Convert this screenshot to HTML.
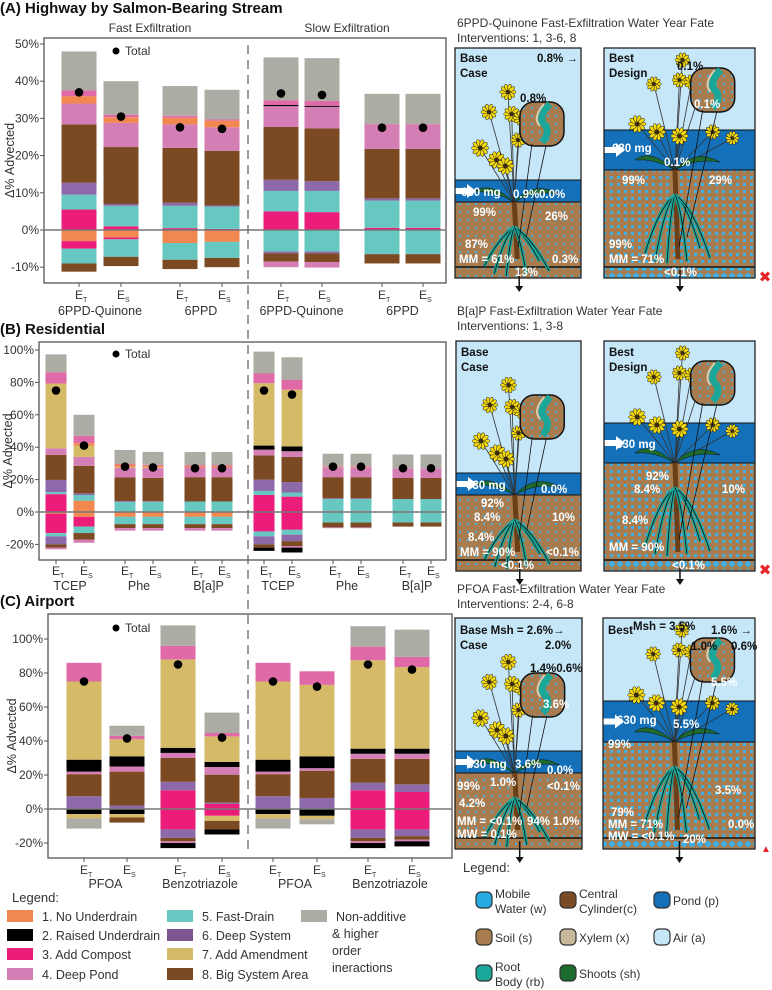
<!DOCTYPE html>
<html><head><meta charset="utf-8"><style>
html,body{margin:0;padding:0;background:#fff;}
svg{display:block;font-family:"Liberation Sans",sans-serif;}
</style></head><body>
<svg id="fig" width="772" height="990" viewBox="0 0 772 990" xmlns="http://www.w3.org/2000/svg">
<defs>
<pattern id="soilDots" width="8" height="8" patternUnits="userSpaceOnUse"><rect width="8" height="8" fill="#A97C50"/><rect x="3" y="3" width="2" height="2" fill="#3FB0E6"/></pattern>
<pattern id="soilDots2" width="7" height="7" patternUnits="userSpaceOnUse"><rect width="7" height="7" fill="#A97C50"/><rect x="1" y="1" width="3" height="3" fill="#3FB0E6"/></pattern>
<pattern id="waterDots" width="8" height="8" patternUnits="userSpaceOnUse"><rect width="8" height="8" fill="#A97C50"/><circle cx="4" cy="4" r="3" fill="#3FB0E6"/></pattern>
</defs>
<g id="charts"></g>
<g id="diagrams"></g>
<g id="legends"></g>
</svg>
<script>
// ---------- DATA ----------
const seriesNames = ["noUnderLow","compost","fast","deep","big","pond","raised","amend","noUnder","mix","nonadd"];
const seriesColors = {noUnderLow:"#F08850",compost:"#EC1C7A",fast:"#66C8C1",deep:"#8E69AA",big:"#7B4A22",pond:"#D57DB5",raised:"#000000",amend:"#D5BA68",noUnder:"#F08850",mix:"#E06AA8",nonadd:"#ADACA4"};
const negOrder = ["noUnder","compost","raised","amend","fast","deep","big","pond","nonadd"];

// Panel A
const catsA = ["6PPD-Quinone","6PPD","6PPD-Quinone","6PPD"];
const barLabelsA = ["T","S","T","S","T","S","T","S"];
const A_pos = {
  noUnderLow:[0,0,0,0,0,0,0,0],
  compost:[5.5,1,0.5,0.3,5,4.8,0.6,0.6],
  fast:[4,5.5,6,6,5.5,5.7,7.3,7.3],
  deep:[3.2,0.5,0.8,0.3,3,2.6,0.6,0.6],
  big:[15.7,15.3,14.8,14.7,14.2,14.2,13.3,13.3],
  pond:[5.6,6.5,6.3,6.3,5.6,5.8,6.3,6.3],
  raised:[0,0,0,0,0.3,0.3,0,0],
  amend:[0,0,0,0,0,0,0,0],
  noUnder:[2,1.5,1.8,1.8,0,0,0,0],
  mix:[1.5,0.7,0.5,0.3,1.3,1.3,0.3,0.3],
  nonadd:[10.5,9,8,8,11.5,11.5,8.2,8.2]};
const A_neg = {
  noUnder:[3,2,3.5,3.2,0,0,0,0], compost:[2,0.5,0,0,0,0,0,0], raised:[0,0,0,0,0,0,0,0], amend:[0,0,0,0,0,0,0,0],
  fast:[4,4.7,4.5,4.3,5.8,5.8,6.5,6.5], deep:[0,0,0,0,0.5,0.5,0,0], big:[2.2,2.5,2.5,2.5,2.2,2.3,2.5,2.5], pond:[0,0,0,0,1.5,1.5,0,0], nonadd:[0,0,0,0,0,0,0,0]};
const totalsA = [37,30.5,27.6,27.2,36.7,36.3,27.5,27.5];
const ticksA = [50,40,30,20,10,0,-10];

// Panel B
const catsB = ["TCEP","Phe","B[a]P","TCEP","Phe","B[a]P"];
const barLabelsB = ["T","S","T","S","T","S","T","S","T","S","T","S"];
const B_pos = {
  noUnderLow:[0,7,0,0,0,0,0,0,0,0,0,0],
  compost:[11,0,0.3,0.3,0,0,10.5,9.5,0.5,0.5,0,0],
  fast:[1.3,3.5,6,6,6.5,6.5,2.5,2.5,7.5,7.5,8,8],
  deep:[7.5,1,0.5,0.3,0,0,7,6.5,0.5,0.5,0,0],
  big:[15.5,17,14.5,14.5,15,15,15,15.5,13,13,13,13],
  pond:[4,5.5,6,6,6,6,3.5,3.5,6,6,6,6],
  raised:[0,0,0,0,0,0,2.5,3,0,0,0,0],
  amend:[40,7,0.5,0.5,0,0,38.5,35,0.5,0.5,0,0],
  noUnder:[0,1.5,1.5,1,1,1,0,0,0,0,0,0],
  mix:[7,4.5,0.5,0.5,0.5,0.5,6,6,0.5,0.5,0,0],
  nonadd:[11,13,8.5,8,8,8,13.5,14,7.5,7.5,8.5,8.5]};
const B_neg = {
  noUnder:[1,3,3,3,3,3,0,0,0,0,0,0], compost:[12,6,0,0,0,0,12,11,0,0,0,0], raised:[0,0,0,0,0,0,0,0,0,0,0,0],
  amend:[0,0,0,0,0,0,0,0,0,0,0,0], fast:[2,4,4.5,4.5,4.5,4.5,3,3,6.5,6.5,6.5,6.5], deep:[5,0,0,0,0,0,5,4,0,0,0,0],
  big:[2,4,2.5,2.5,2.5,2.5,2,3,3,3,2.5,2.5], pond:[1,2,1.5,1.5,1.5,1.5,0,1,0.5,0.5,0,0], nonadd:[0,0,0,0,0,0,0,0,0,0,0,0]};
const B_negTail = [0,0,0,0,0,0,2,3,0,0,0,0];
const totalsB = [75,41,28,27.5,27,27,75,72.5,28,28,27,27];
const ticksB = [100,80,60,40,20,0,-20];

// Panel C
const catsC = ["PFOA","Benzotriazole","PFOA","Benzotriazole"];
const barLabelsC = ["T","S","T","S","T","S","T","S"];
const C_pos = {
  noUnderLow:[0,0,0,0,0,0,0,0],
  compost:[0,0,11,3,0,0,11,10],
  fast:[0,0,0,0,0,0,0,0],
  deep:[7.5,2,5,0.7,7.5,6.5,4.5,4.5],
  big:[13,20,14,16.5,13,16,14,15],
  pond:[1.5,3,3,4.5,1.5,1.5,3,3],
  raised:[7,6,3,3,7,7,3,3],
  amend:[46,10,52,15,46,42,52,48],
  noUnder:[0,0,0,0,0,0,0,0],
  mix:[11,2,8,2,11,8,8,6],
  nonadd:[0,6,12,12,0,0,12,16]};
const C_neg = {
  noUnder:[0,0,0,0,0,0,0,0], compost:[0,0,12,4,0,0,12,12], raised:[3,3,0,0,3,4,0,0], amend:[2.5,2,0,3,2.5,2,0,0],
  fast:[0,0,0,0,0,0,0,0], deep:[0,0,5,0,0,0,5,4], big:[0,3,2,5,0,0,2,2], pond:[0,0,1,0,0,0,1,1], nonadd:[6,0,0,0,6,3,0,0]};
const C_negTail = [0,0,3,3,0,0,3,3];
const totalsC = [75,41.5,85,42,75,72,85,82];
const ticksC = [100,80,60,40,20,0,-20];

// ---------- HELPERS ----------
const NS="http://www.w3.org/2000/svg";
function mk(tag, attrs, parent){const e=document.createElementNS(NS,tag);for(const k in attrs)e.setAttribute(k,attrs[k]);(parent||document.getElementById('charts')).appendChild(e);return e;}
function txt(x,y,s,attrs,parent){const t=mk('text',Object.assign({x:x,y:y},attrs||{}),parent);t.textContent=s;return t;}

function drawPanel(p){
  const g=mk('g',{});
  
  
  const yv=v=>p.zero - v*p.scale;
  const frame=mk('rect',{x:p.x0,y:p.top,width:p.x1-p.x0,height:p.bot-p.top,fill:'none',stroke:'#555','stroke-width':1.3},g);
  
  
  p.ticks.forEach(t=>{
    const y=yv(t);
    mk('line',{x1:p.x0-4,x2:p.x0,y1:y,y2:y,stroke:'#555'},g);
    const l=txt(p.x0-5,y+4,t+'%',{'font-size':12,'text-anchor':'end',fill:'#333'},g);
    
    
  });
  const yl=txt(0,0,'Δ% Advected',{'font-size':12.5,'text-anchor':'middle',fill:'#333',transform:`translate(${p.ylabX},${(p.top+p.bot)/2}) rotate(-90)`},g);
  
  
  const n=p.centers.length;
  for(let i=0;i<n;i++){
    const cx=p.centers[i], bw=p.bw;
    const bg=mk('g',{},g);
    
    
    let acc=0;
    seriesNames.forEach(s=>{
      const v=p.pos[s][i]; if(!v) return;
      const r=mk('rect',{x:cx-bw/2,y:yv(acc+v),width:bw,height:v*p.scale,fill:seriesColors[s]},bg);
      
      
      acc+=v;
    });
    let nacc=0;
    negOrder.forEach(s=>{
      const v=p.neg[s][i]; if(!v) return;
      const r=mk('rect',{x:cx-bw/2,y:yv(-nacc),width:bw,height:v*p.scale,fill:seriesColors[s]},bg);
      
      
      nacc+=v;
    });
    if(p.tail && p.tail[i]){
      const v=p.tail[i];
      const r=mk('rect',{x:cx-bw/2,y:yv(-nacc),width:bw,height:v*p.scale,fill:'#000'},bg);
      
      
    }
    const d=mk('circle',{cx:cx,cy:yv(p.totals[i]),r:4.3,fill:'#000'},bg);
    
    
    mk('line',{x1:cx,x2:cx,y1:p.bot,y2:p.bot+4,stroke:'#555'},g);
    const lab=mk('text',{x:cx-4,y:p.bot+p.eOff,'font-size':12,fill:'#333'},g);
    
    
    lab.textContent='E';
    const sub=mk('tspan',{'font-size':7,dy:3},lab); sub.textContent=p.bl[i];
  }
  const zl=mk('line',{x1:p.x0,x2:p.x1,y1:p.zero,y2:p.zero,stroke:'#777','stroke-width':1.4},g);
  
  
  p.cats.forEach((c,k)=>{
    const cx=(p.centers[2*k]+p.centers[2*k+1])/2;
    const t=txt(cx,p.bot+p.cOff,c,{'font-size':12.5,'text-anchor':'middle',fill:'#333'},g);
    
    
  });
  mk('circle',{cx:p.legX,cy:p.legY-4,r:3.5,fill:'#000'},g);
  const tl=txt(p.legX+9,p.legY,'Total',{'font-size':12,fill:'#333'},g);
  
  
}

drawPanel({name:'panel-a-chart',x0:44,x1:446,top:38,bot:283,zero:230,scale:3.72,ticks:ticksA,ylabX:14,
  centers:[79,121,180,222,281,322,382,423],bw:35,pos:A_pos,neg:A_neg,totals:totalsA,bl:barLabelsA,cats:catsA,eOff:16,cOff:32,legX:116,legY:55});
drawPanel({name:'panel-b-chart',x0:39,x1:446,top:342,bot:560,zero:512,scale:1.62,ticks:ticksB,ylabX:12,
  centers:[56,84,125,153,195,222,264,292,333,361,403,431],bw:21,pos:B_pos,neg:B_neg,tail:B_negTail,totals:totalsB,bl:barLabelsB,cats:catsB,eOff:15,cOff:30,legX:116,legY:358});
drawPanel({name:'panel-c-chart',x0:48,x1:452,top:614,bot:858,zero:809,scale:1.7,ticks:ticksC,ylabX:16,
  centers:[84,127,178,222,273,317,368,412],bw:35,pos:C_pos,neg:C_neg,tail:C_negTail,totals:totalsC,bl:barLabelsC,cats:catsC,eOff:16,cOff:30,legX:116,legY:632});

const C=document.getElementById('charts');
const dv=mk('line',{x1:248,x2:248,y1:45,y2:855,stroke:'#666','stroke-width':1.3,'stroke-dasharray':'9,6'},C);


[[0,13,'(A)  Highway by Salmon-Bearing Stream','panel-a-title'],[0,334,'(B)    Residential','panel-b-title'],[0,606,'(C)    Airport','panel-c-title']].forEach(a=>{
  const t=txt(a[0],a[1],a[2],{'font-size':15,'font-weight':'bold',fill:'#111'},C);
  
  
});
const f1=txt(150,32,'Fast Exfiltration',{'font-size':12,'text-anchor':'middle',fill:'#333'},C);


const f2=txt(347,32,'Slow Exfiltration',{'font-size':12,'text-anchor':'middle',fill:'#333'},C);



// ---------- DIAGRAMS ----------
const D=document.getElementById('diagrams');
function flower(g,x,y,r){
  for(let k=0;k<10;k++){const a=k*Math.PI/5;mk('ellipse',{cx:x+Math.cos(a)*r*0.7,cy:y+Math.sin(a)*r*0.7,rx:r*0.55,ry:r*0.28,fill:'#F5D90A',stroke:'#222','stroke-width':0.5,transform:`rotate(${k*36} ${x+Math.cos(a)*r*0.7} ${y+Math.sin(a)*r*0.7})`},g);}
  mk('circle',{cx:x,cy:y,r:r*0.35,fill:'#3a2a10'},g);
}
function diagram(name,x,y,w,h,pondTop,pondBot,soilBot,best,labels){
  const g=mk('g',{},D);
  
  
  mk('rect',{x:x,y:y,width:w,height:pondTop-y,fill:'#C5E7F8'},g);
  mk('rect',{x:x,y:pondTop,width:w,height:pondBot-pondTop,fill:'#1470B8'},g);
  mk('rect',{x:x,y:pondBot,width:w,height:soilBot-pondBot,fill:best?'url(#soilDots2)':'url(#soilDots)'},g);
  mk('rect',{x:x,y:soilBot,width:w,height:y+h-soilBot,fill:best?'url(#waterDots)':'url(#soilDots)'},g);
  mk('line',{x1:x,x2:x+w,y1:soilBot,y2:soilBot,stroke:'#111','stroke-width':1.5},g);
  mk('line',{x1:x,x2:x+w,y1:pondTop,y2:pondTop,stroke:'#111','stroke-width':1},g);
  mk('line',{x1:x,x2:x+w,y1:pondBot,y2:pondBot,stroke:'#111','stroke-width':1},g);
  const cx=x+w*0.47;
  const fl=best?[[x+w*0.52,y+12,6],[x+w*0.33,y+36,6],[x+w*0.5,y+32,6],[x+w*0.58,y+34,6],[x+w*0.62,y+52,5.5],[x+w*0.22,pondTop-6,7],[x+w*0.35,pondTop+2,7],[x+w*0.5,pondTop+6,7],[x+w*0.72,pondTop+2,6],[x+w*0.85,pondTop+8,5.5]]
    :[[x+w*0.42,y+44,6.5],[x+w*0.27,y+64,6.5],[x+w*0.45,y+66,6.5],[x+w*0.52,y+70,6],[x+w*0.5,y+92,6],[x+w*0.2,y+100,7],[x+w*0.33,y+112,7],[x+w*0.4,y+118,7]];
  fl.forEach(f=>mk('path',{d:`M${cx},${pondBot} Q${(cx+f[0])/2},${(pondBot+f[1])/2} ${f[0]},${f[1]}`,stroke:'#333','stroke-width':0.8,fill:'none'},g));
  mk('path',{d:`M${cx},${pondBot} q-25,-22 -40,-10 q20,-2 40,10 q20,-22 45,-8 q-25,-4 -45,8`,fill:'#1E6B2E',stroke:'#111','stroke-width':0.5},g);
  fl.forEach(f=>flower(g,f[0],f[1],f[2]));
  mk('path',{d:`M${cx},${pondBot} L${cx+3},${soilBot-8}`,stroke:'#6B3F17','stroke-width':5},g);
  [[-30,0],[-20,8],[25,-5],[35,5],[-8,10],[12,8]].forEach(r=>{
    mk('path',{d:`M${cx},${pondBot+25} q${r[0]/2},10 ${r[0]},${(soilBot-pondBot)*0.6+r[1]}`,stroke:'#1BA69A','stroke-width':3.5,fill:'none'},g);
    mk('path',{d:`M${cx},${pondBot+25} q${r[0]/2},10 ${r[0]},${(soilBot-pondBot)*0.6+r[1]}`,stroke:'#111','stroke-width':0.8,fill:'none'},g);
  });
  const bx=best?x+w*0.72:x+w*0.69, by=best?y+42:(pondTop-56);
  mk('rect',{x:bx-22,y:by-22,width:44,height:44,rx:14,fill:'url(#soilDots)',stroke:'#111','stroke-width':1.5},g);
  mk('path',{d:`M${bx+8},${by-20} q-14,14 -4,22 q4,8 -4,16`,stroke:'#1BA69A','stroke-width':7,fill:'none'},g);
  mk('path',{d:`M${bx+2},${by-20} q-12,14 -4,22`,stroke:'#D9CDB0','stroke-width':2,fill:'none'},g);
  mk('line',{x1:bx-10,y1:by+20,x2:cx+4,y2:soilBot-20,stroke:'#111','stroke-width':0.8},g);
  mk('line',{x1:bx+4,y1:by+22,x2:cx+12,y2:soilBot-30,stroke:'#111','stroke-width':0.8},g);
  mk('path',{d:`M${x},${(pondTop+pondBot)/2-3} h12 v-4 l9,7 l-9,7 v-4 h-12z`,fill:'#fff'},g);
  mk('line',{x1:cx+5,y1:soilBot+3,x2:cx+5,y2:y+h+12,stroke:'#111','stroke-width':1.5},g);
  mk('path',{d:`M${cx+1},${y+h+8} l4,6 l4,-6z`,fill:'#111'},g);
  mk('rect',{x:x,y:y,width:w,height:h,fill:'none',stroke:'#222','stroke-width':1.3},g);
  labels.forEach(l=>{
    const t=txt(x+l[0],y+l[1],l[2],{'font-size':l[4]||11.5,'font-weight':'bold',fill:l[3]||'#fff'},g);
    
    
  });
  return g;
}
function header(x,y,a,b,name){
  const t1=txt(x,y,a,{'font-size':12,fill:'#333'},D);
  
  
  const t2=txt(x,y+15,b,{'font-size':12,fill:'#333'},D);
  
  
}
header(457,27,'6PPD-Quinone Fast-Exfiltration Water Year Fate','Interventions: 1, 3-6, 8','diagram-a');
diagram('diagram-a-base',455,48,126,230,180,202,267,false,[[5,14,'Base','#111'],[5,29,'Case','#111'],[82,14,'0.8% →','#111'],[65,54,'0.8%','#111'],[6,148,'630 mg'],[58,150,'0.9%'],[84,150,'0.0%'],[18,168,'99%'],[90,172,'26%'],[10,200,'87%'],[4,215,'MM = 61%'],[97,215,'0.3%'],[60,228,'13%']]);
diagram('diagram-a-best',604,48,151,230,130,170,267,true,[[5,14,'Best','#111'],[5,29,'Design','#111'],[73,22,'0.1%','#111'],[90,60,'0.1%'],[8,104,'630 mg'],[60,118,'0.1%'],[18,136,'99%'],[105,136,'29%'],[5,200,'99%'],[5,215,'MM = 71%'],[60,228,'<0.1%']]);
header(457,315,'B[a]P Fast-Exfiltration Water Year Fate','Interventions: 1, 3-8','diagram-b');
diagram('diagram-b-base',456,341,125,230,473,495,560,false,[[5,15,'Base','#111'],[5,30,'Case','#111'],[10,148,'630 mg'],[85,152,'0.0%'],[25,166,'92%'],[18,180,'8.4%'],[96,180,'10%'],[12,200,'8.4%'],[4,215,'MM = 90%'],[90,215,'<0.1%'],[45,228,'<0.1%']]);
diagram('diagram-b-best',604,341,151,230,423,463,560,true,[[5,15,'Best','#111'],[5,30,'Design','#111'],[12,107,'630 mg'],[42,139,'92%'],[30,152,'8.4%'],[118,152,'10%'],[18,183,'8.4%'],[5,210,'MM = 90%'],[68,228,'<0.1%']]);
header(457,593,'PFOA Fast-Exfiltration Water Year Fate','Interventions: 2-4, 6-8','diagram-c');
diagram('diagram-c-base',455,618,127,231,751,773,838,false,[[5,16,'Base  Msh = 2.6%','#111'],[5,31,'Case','#111'],[98,16,'→','#111'],[90,31,'2.0%','#111'],[75,54,'1.4%0.6%','#111'],[88,90,'3.6%'],[12,150,'630 mg'],[60,150,'3.6%'],[92,156,'0.0%'],[2,172,'99%'],[35,168,'1.0%'],[92,172,'<0.1%'],[4,189,'4.2%'],[2,207,'MM = <0.1%'],[72,207,'94%'],[98,207,'1.0%'],[2,220,'MW = 0.1%']]);
diagram('diagram-c-best',603,618,152,231,701,742,838,true,[[5,16,'Best','#111'],[30,12,'Msh = 3.5%','#111'],[108,16,'1.6% →','#111'],[88,32,'1.0%','#111'],[128,32,'0.6%','#111'],[108,68,'5.5%'],[14,106,'630 mg'],[70,110,'5.5%'],[5,130,'99%'],[112,176,'3.5%'],[8,198,'79%'],[5,210,'MM = 71%'],[125,210,'0.0%'],[5,222,'MW = <0.1%'],[80,225,'20%']]);
[[765,278],[765,571]].forEach(p=>{const t=txt(p[0],p[1]+4,'✖',{'font-size':15,fill:'#E8242B','text-anchor':'middle'},D);});
const up=txt(766,852,'▲',{'font-size':10,fill:'#E8242B','text-anchor':'middle'},D);



// ---------- LEGENDS ----------
const L=document.getElementById('legends');
const lt=txt(12,902,'Legend:',{'font-size':13,fill:'#333'},L);


const legItems=[[7,916,'#F08850','1. No Underdrain'],[7,935,'#000','2. Raised Underdrain'],[7,954,'#EC1C7A','3. Add Compost'],[7,974,'#D57DB5','4. Deep Pond'],
 [167,916,'#66C8C1','5. Fast-Drain'],[167,935,'#7D5690','6. Deep System'],[167,954,'#D5BA68','7. Add Amendment'],[167,974,'#7B4A22','8. Big System Area'],[301,916,'#ADACA4','Non-additive']];
legItems.forEach(it=>{
  const g=mk('g',{},L);
  
  
  mk('rect',{x:it[0],y:it[1]-6,width:26,height:12,fill:it[2]},g);
  txt(it[0]+35,it[1]+5,it[3],{'font-size':12.5,fill:'#333'},g);
});
['& higher','order','ineractions'].forEach((s,i)=>{const t=txt(332,938+i*17,s,{'font-size':12.5,fill:'#333'},L);});
const rt=txt(463,872,'Legend:',{'font-size':13,fill:'#333'},L);


const comp=[[484,900,'#29A9E1',['Mobile','Water (w)']],[568,900,'#7B4A22',['Central','Cylinder(c)']],[662,900,'#1470B8',['Pond (p)']],
 [484,937,'#A97C50',['Soil (s)']],[568,937,'#C8B89A',['Xylem (x)']],[662,937,'#C5E7F8',['Air (a)']],
 [484,973,'#1BA69A',['Root','Body (rb)']],[568,973,'#1E6B2E',['Shoots (sh)']]];
comp.forEach(c=>{
  const g=mk('g',{},L);
  
  
  mk('rect',{x:c[0]-8,y:c[1]-8,width:16,height:16,rx:5,fill:c[2],stroke:'#333','stroke-width':1.2},g);
  if(c[3].length==1) txt(c[0]+11,c[1]+5,c[3][0],{'font-size':12,fill:'#333'},g);
  else {txt(c[0]+11,c[1]-2,c[3][0],{'font-size':12,fill:'#333'},g);txt(c[0]+11,c[1]+13,c[3][1],{'font-size':12,fill:'#333'},g);}
});
</script>
</body></html>
